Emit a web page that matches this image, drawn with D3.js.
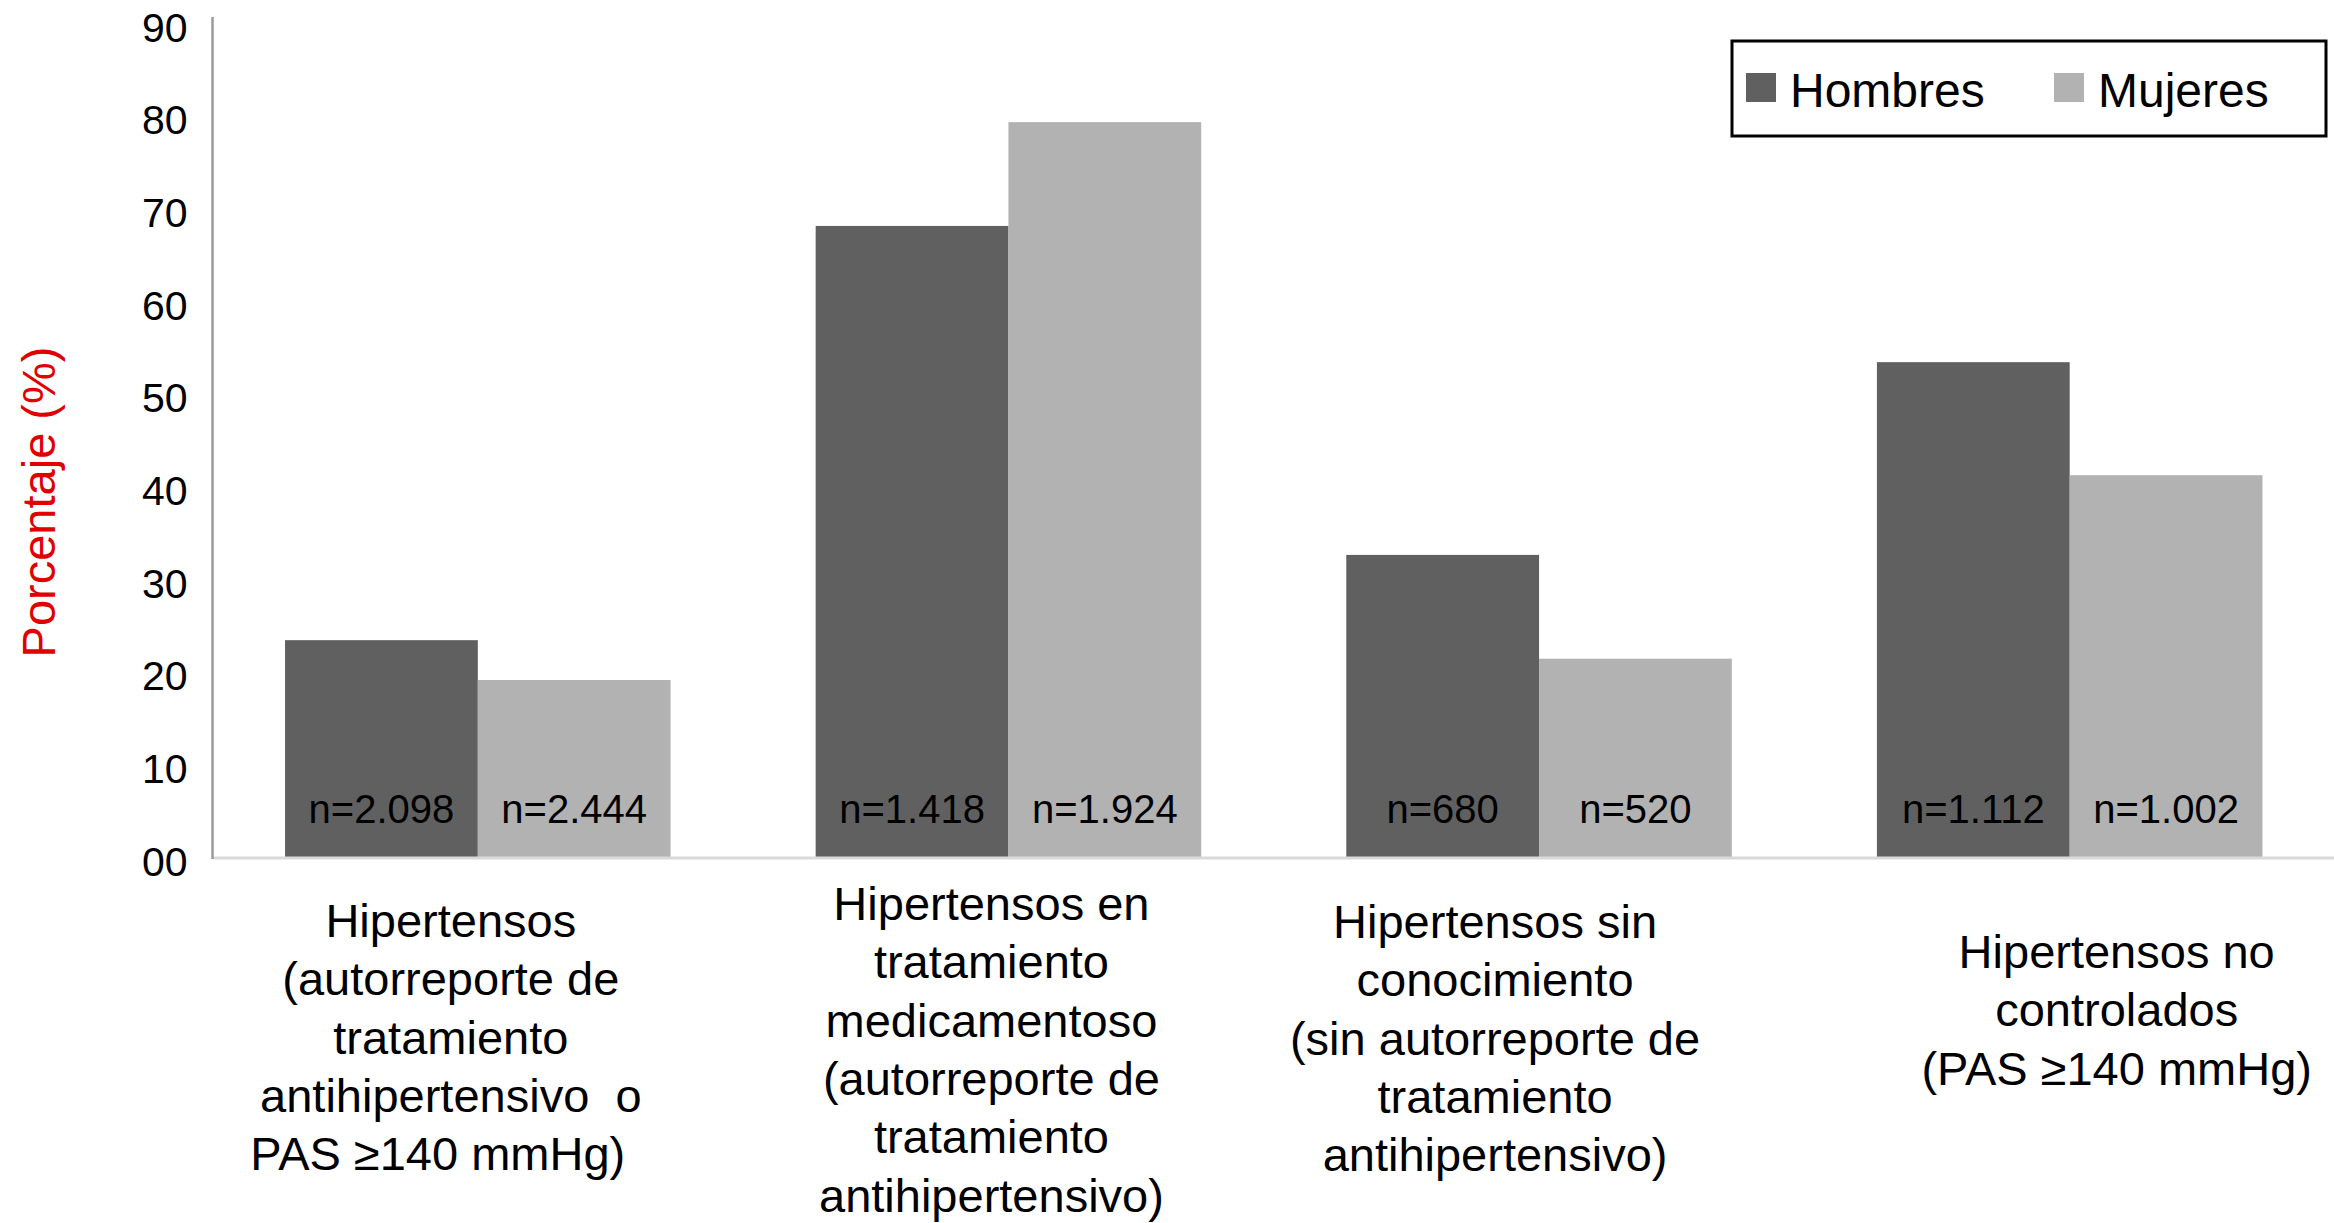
<!DOCTYPE html>
<html>
<head>
<meta charset="utf-8">
<script src="https://cdn.jsdelivr.net/npm/d3@7"></script>
<style>
  html, body { margin: 0; padding: 0; background: #fff; }
  svg { display: block; font-family: "Liberation Sans", Arial, Helvetica, sans-serif; }
</style>
</head>
<body>
<svg id="chart" width="2334" height="1223"></svg>
<script>
// categories, one entry per line of the axis label
var categories = [
    ['Hipertensos', '(autorreporte de', 'tratamiento', 'antihipertensivo  o', 'PAS \u2265140 mmHg)  '],
    ['Hipertensos en', 'tratamiento', 'medicamentoso', '(autorreporte de', 'tratamiento', 'antihipertensivo)'],
    ['Hipertensos sin', 'conocimiento', '(sin autorreporte de', 'tratamiento', 'antihipertensivo)'],
    ['Hipertensos no', 'controlados', '(PAS \u2265140 mmHg)']
];
var seriesNames = ['Hombres', 'Mujeres'];
var hombres = [23.4, 68.1, 32.6, 53.4];
var mujeres = [19.1, 79.3, 21.4, 41.2];
var nHombres = ['n=2.098', 'n=1.418', 'n=680', 'n=1.112'];
var nMujeres = ['n=2.444', 'n=1.924', 'n=520', 'n=1.002'];
var yTicks = [0, 10, 20, 30, 40, 50, 60, 70, 80, 90];
var yTickLabels = ['00', '10', '20', '30', '40', '50', '60', '70', '80', '90'];
var yTitle = 'Porcentaje (%)';

var colors = {Hombres: '#606060', Mujeres: '#b2b2b2'};

var svg = d3.select('#chart'),
    left = 212.5, right = 2335,
    zeroY = 857, topY = 23;

var catIdx = d3.range(categories.length);

var x = d3.scaleBand()
    .domain(catIdx)
    .range([left, right])
    .paddingInner(0.2734)
    .paddingOuter(0.1367);

var xSeries = d3.scaleBand()
    .domain(seriesNames)
    .range([0, x.bandwidth()]);

var y = d3.scaleLinear().domain([0, 90]).range([zeroY, topY]);

// rows for the bars
var rows = [];
catIdx.forEach(function(i) {
    rows.push({cat: i, series: 'Hombres', value: hombres[i], n: nHombres[i]});
    rows.push({cat: i, series: 'Mujeres', value: mujeres[i], n: nMujeres[i]});
});

// bars
svg.append('g').selectAll('rect')
    .data(rows).enter()
    .append('rect')
    .attr('x', function(d) { return x(d.cat) + xSeries(d.series); })
    .attr('y', function(d) { return y(d.value); })
    .attr('width', xSeries.bandwidth())
    .attr('height', function(d) { return y(0) - y(d.value); })
    .attr('fill', function(d) { return colors[d.series]; });

// n labels inside bars
svg.append('g').selectAll('text')
    .data(rows).enter()
    .append('text')
    .attr('x', function(d) { return x(d.cat) + xSeries(d.series) + xSeries.bandwidth() / 2; })
    .attr('y', y(0) - 34)
    .attr('text-anchor', 'middle')
    .style('font-size', '40px')
    .style('fill', '#000')
    .text(function(d) { return d.n; });

// baseline
svg.append('line')
    .attr('x1', left).attr('x2', 2334)
    .attr('y1', y(0) + 1).attr('y2', y(0) + 1)
    .attr('stroke', '#d9d9d9').attr('stroke-width', 3);

// y axis
var yAxis = d3.axisLeft(y)
    .tickValues(yTicks)
    .tickSize(0)
    .tickPadding(25)
    .tickFormat(function(d, i) { return yTickLabels[i]; });

var ya = svg.append('g')
    .attr('transform', 'translate(' + left + ',0)')
    .call(yAxis);
ya.select('.domain').remove();
ya.selectAll('text')
    .attr('dy', '0.44em')
    .style('font-size', '41px')
    .style('font-family', '"Liberation Sans", Arial, sans-serif')
    .style('fill', '#000');

svg.append('line')
    .attr('x1', left).attr('x2', left)
    .attr('y1', topY - 6).attr('y2', y(0) + 2)
    .attr('stroke', '#9a9a9a').attr('stroke-width', 2.5);

// y title
svg.append('text')
    .attr('transform', 'translate(55,502) rotate(-90)')
    .attr('text-anchor', 'middle')
    .style('font-size', '47px')
    .style('fill', '#e00000')
    .text(yTitle);

// category labels (small per-box nudges to follow the original text boxes)
var labelDx = [-27, -17, -44, 47],
    labelTop = [937, 920, 938, 968],
    lineH = 58.3;

var catG = svg.append('g').selectAll('text')
    .data(categories).enter()
    .append('text')
    .attr('text-anchor', 'middle')
    .style('font-size', '47px')
    .style('fill', '#000')
    .style('white-space', 'pre')
    .attr('xml:space', 'preserve');

catG.selectAll('tspan')
    .data(function(lines, i) { return lines.map(function(l) { return {t: l, i: i}; }); })
    .enter().append('tspan')
    .attr('x', function(d) { return x(d.i) + x.bandwidth() / 2 + labelDx[d.i]; })
    .attr('y', function(d, j) { return labelTop[d.i] + j * lineH; })
    .text(function(d) { return d.t; });

// legend
var lg = svg.append('g');
lg.append('rect')
    .attr('x', 1732).attr('y', 41)
    .attr('width', 594).attr('height', 95)
    .attr('fill', '#fff')
    .attr('stroke', '#000').attr('stroke-width', 3);

var legendX = [1746, 2054];
var items = lg.selectAll('g.item')
    .data(seriesNames).enter()
    .append('g').attr('class', 'item')
    .attr('transform', function(d, i) { return 'translate(' + legendX[i] + ',0)'; });

items.append('rect')
    .attr('x', 0).attr('y', 73)
    .attr('width', 30).attr('height', 29)
    .attr('fill', function(d) { return colors[d]; });

items.append('text')
    .attr('x', 44).attr('y', 107)
    .style('font-size', '48px')
    .style('fill', '#000')
    .text(function(d) { return d; });
</script>
</body>
</html>
